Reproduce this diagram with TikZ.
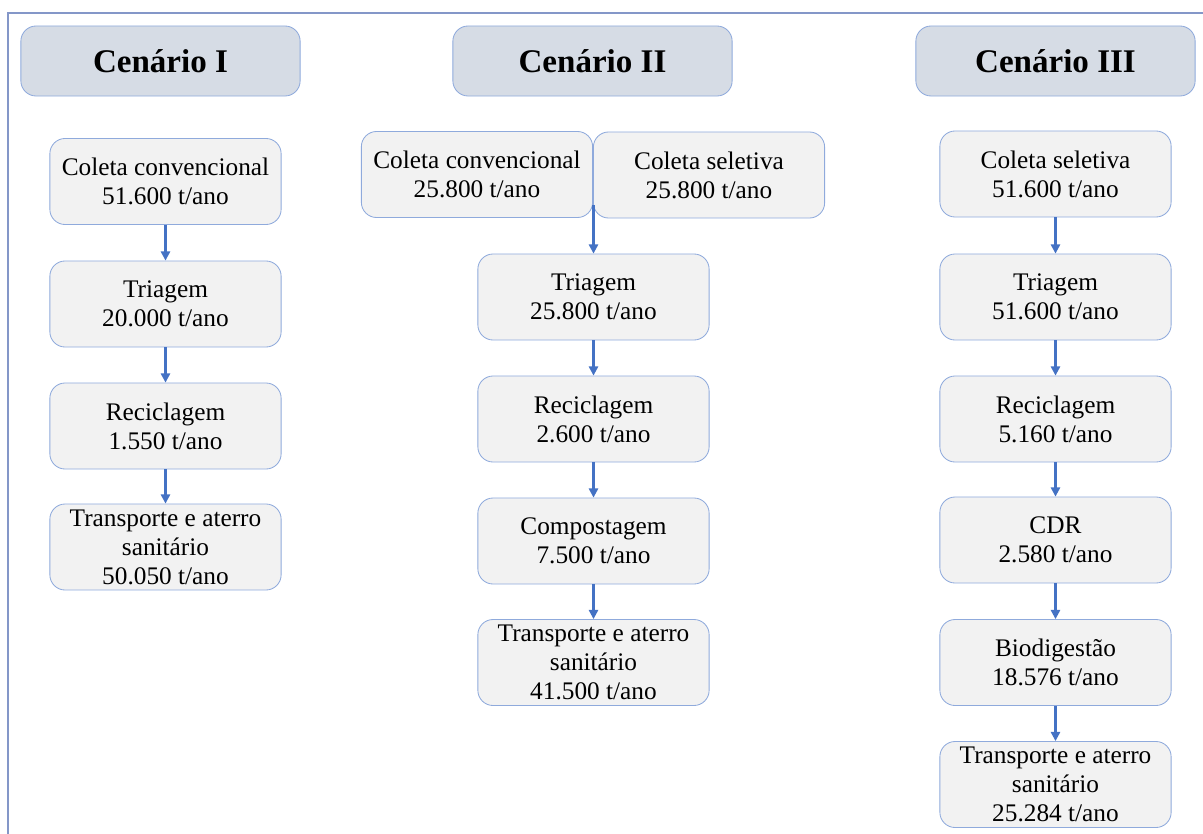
\documentclass[tikz,border=0pt]{standalone}
\usepackage{fontspec}
\setmainfont{Liberation Serif}
\usepackage{tikz}
\usetikzlibrary{arrows.meta}
\definecolor{boxline}{RGB}{143,170,220}
\definecolor{boxfill}{RGB}{242,242,242}
\definecolor{headfill}{RGB}{214,220,229}
\definecolor{arrowblue}{RGB}{68,114,196}
\definecolor{frameline}{RGB}{132,151,200}
\tikzstyle{edge}=[-{Triangle[length=6.5pt,width=6.5pt]}, line width=1.5pt, draw=arrowblue]
\tikzstyle{frame}=[line width=0.8pt, draw=frameline]
\tikzstyle{stepbox}=[draw=boxline, fill=boxfill, rounded corners=0.38cm, line width=0.6pt, minimum width=5.78cm, minimum height=2.15cm, align=center, inner sep=1pt, font=\fontsize{18}{20.6}\selectfont]
\tikzstyle{headbox}=[draw=boxline, fill=headfill, rounded corners=0.38cm, line width=0.6pt, minimum width=6.98cm, minimum height=1.75cm, font=\fontsize{23.5}{28}\selectfont\bfseries]

\begin{document}
\begin{tikzpicture}[x=0.025cm, y=-0.025cm]
      \useasboundingbox (0,0) rectangle (1203,834);
      \draw[frame] (8,834) -- (8,13) -- (1203,13);
      % headers
      \node(h1) [headbox] at (160.5, 61){Cen\'ario I};
      \node(h2) [headbox] at (592.5, 61){Cen\'ario II};
      \node(h3) [headbox] at (1055.5, 61){Cen\'ario III};
      % cenario I
      \node(a1) [stepbox] at (165.5, 181.5){Coleta convencional\\51.600 t/ano};
      \node(a2) [stepbox] at (165.5, 304){Triagem\\20.000 t/ano};
      \node(a3) [stepbox] at (165.5, 426){Reciclagem\\1.550 t/ano};
      \node(a4) [stepbox] at (165.5, 547){Transporte e aterro\\sanit\'ario\\50.050 t/ano};
      % cenario II
      \node(b0) [stepbox] at (477, 174.5){Coleta convencional\\25.800 t/ano};
      \node(b1) [stepbox] at (709, 175){Coleta seletiva\\25.800 t/ano};
      \coordinate(bj) at (593.5, 205);
      \node(b2) [stepbox] at (593.5, 297){Triagem\\25.800 t/ano};
      \node(b3) [stepbox] at (593.5, 419){Reciclagem\\2.600 t/ano};
      \node(b4) [stepbox] at (593.5, 541){Compostagem\\7.500 t/ano};
      \node(b5) [stepbox] at (593.5, 662.5){Transporte e aterro\\sanit\'ario\\41.500 t/ano};
      % cenario III
      \node(c1) [stepbox] at (1055.5, 174){Coleta seletiva\\51.600 t/ano};
      \node(c2) [stepbox] at (1055.5, 297){Triagem\\51.600 t/ano};
      \node(c3) [stepbox] at (1055.5, 419){Reciclagem\\5.160 t/ano};
      \node(c4) [stepbox] at (1055.5, 540){CDR\\2.580 t/ano};
      \node(c5) [stepbox] at (1055.5, 662.5){Biodigest\~ao\\18.576 t/ano};
      \node(c6) [stepbox] at (1055.5, 784.5){Transporte e aterro\\sanit\'ario\\25.284 t/ano};
      \draw[edge] (a1) to (a2);
      \draw[edge] (a2) to (a3);
      \draw[edge] (a3) to (a4);
      \draw[edge] (bj) to (b2.north);
      \draw[edge] (b2) to (b3);
      \draw[edge] (b3) to (b4);
      \draw[edge] (b4) to (b5);
      \draw[edge] (c1) to (c2);
      \draw[edge] (c2) to (c3);
      \draw[edge] (c3) to (c4);
      \draw[edge] (c4) to (c5);
      \draw[edge] (c5) to (c6);
    \end{tikzpicture}
\end{document}
